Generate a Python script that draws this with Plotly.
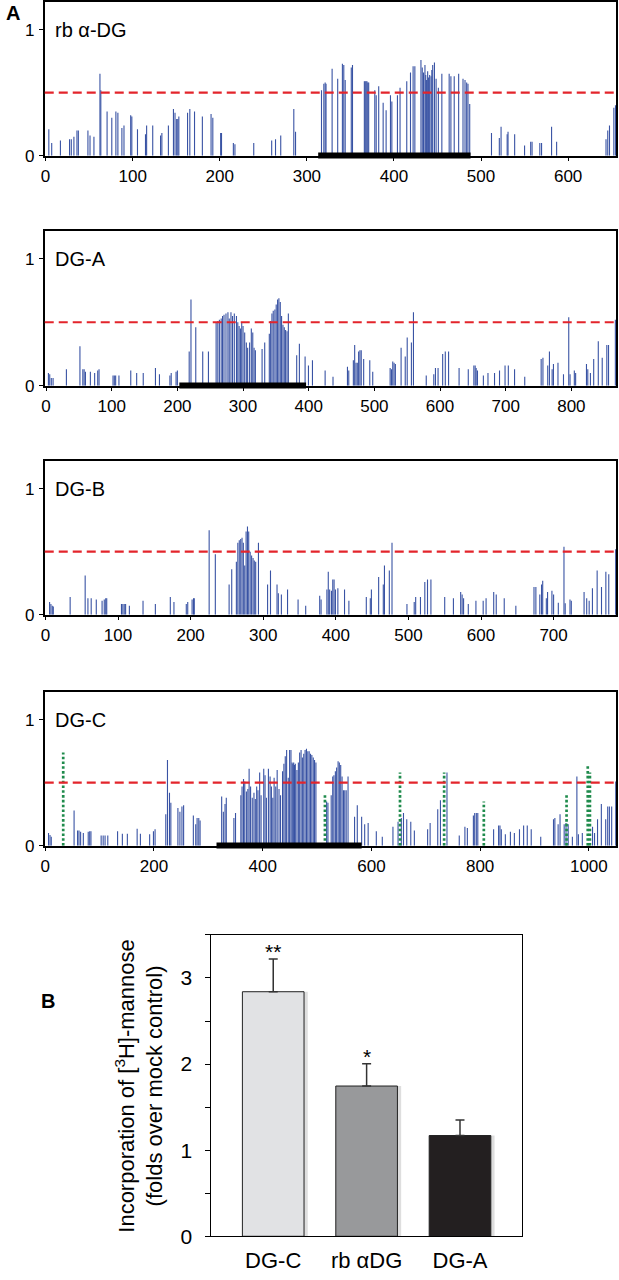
import plotly.graph_objects as go

# ---------------- data ----------------
rb_pos = [3.7, 7, 17, 27.5, 29.5, 32.5, 36, 37.6, 48.6, 51, 55.5, 62.4, 63.4, 70.6, 76, 80.7, 83, 87.6, 90,
          97.7, 99, 105.5, 114.7, 116, 123, 132, 133.5, 141, 146.8, 148.6, 150.5, 151.8, 153, 163, 165.6, 171,
          180, 190, 192, 201, 202, 215.6, 217.4, 239, 259.6, 264, 270, 285, 287,
          316.8, 319.5, 321, 322, 329, 335.4, 340.8, 342.4, 344, 351, 352.4, 366, 367, 368, 369, 370, 371,
          378, 379.6, 382.5, 387.6, 391, 396, 397.6, 404, 407, 414.7, 419, 422, 424, 431, 432.5, 434, 435.6,
          436.5, 437.5, 438.7, 439.8, 441, 442.6, 443.5, 444.5, 446.5, 448.4, 451, 455, 463.4, 465.4, 469.2,
          474.3, 479.3, 481.6, 483.5, 485, 487,
          512, 521, 523, 530, 531, 538.6, 550, 557, 558.6, 567.5, 569.5, 581, 586.8, 643.5, 645.5, 647.5,
          652.5, 654.4]
rb_score = [0.21, 0.10, 0.12, 0.13, 0.13, 0.15, 0.20, 0.20, 0.20, 0.16, 0.15, 0.65, 0.52, 0.35, 0.30, 0.35, 0.34,
            0.22, 0.24, 0.32, 0.31, 0.21, 0.17, 0.24, 0.24, 0.16, 0.18, 0.24, 0.37, 0.34, 0.29, 0.29, 0.31, 0.34,
            0.37, 0.35, 0.31, 0.33, 0.30, 0.18, 0.18, 0.10, 0.09, 0.10, 0.12, 0.13, 0.16, 0.37, 0.19,
            0.52, 0.57, 0.58, 0.57, 0.69, 0.61, 0.73, 0.72, 0.60, 0.70, 0.72, 0.59, 0.59, 0.59, 0.59, 0.58, 0.58,
            0.52, 0.48, 0.55, 0.42, 0.36, 0.48, 0.43, 0.48, 0.54, 0.59, 0.66, 0.71, 0.71, 0.76, 0.70, 0.66, 0.72,
            0.64, 0.60, 0.67, 0.62, 0.64, 0.63, 0.68, 0.72, 0.74, 0.61, 0.54, 0.65, 0.65, 0.63, 0.63,
            0.65, 0.61, 0.60, 0.58, 0.57, 0.41,
            0.18, 0.14, 0.23, 0.17, 0.19, 0.17, 0.08, 0.11, 0.11, 0.10, 0.10, 0.23, 0.11, 0.13, 0.20, 0.24,
            0.38, 0.40]

dga_pos = [3.6, 5.6, 8, 10.7, 31, 51.6, 56, 58, 60, 67.5, 74, 78.7, 80.7, 102, 104, 106, 111, 129, 138, 148,
           166.6, 172.7, 188.6, 190.6, 198, 200, 218, 220.7, 228, 238.6, 247.3,
           259, 261.6, 264, 266.7, 268.8, 271, 274, 277, 279, 281.6, 284, 286.7, 290, 292, 294, 296, 298, 300,
           302.5, 305, 307, 310, 312.6, 314.8, 316.8, 318.8, 329, 333, 340, 342, 344, 346, 348.5, 350.5, 352.6,
           354.6, 356.7, 358.7, 360.8, 362.8, 364.8, 367, 369, 381.7, 385.8, 394.5, 399.6, 405.7, 425, 437,
           459, 461, 468, 470, 472, 474, 476, 478, 480, 483.7, 493, 497.5, 524, 526, 528, 530, 532, 540.7, 547,
           550, 556.4, 559.5, 579, 590.5, 593, 597, 604, 608, 613, 629, 643, 651.5, 653.5, 655, 657, 666, 673,
           683, 690.6, 699, 704, 713.5, 729, 754, 756.7, 764, 766.6, 770.7, 772.7, 779.6, 788, 796, 798, 804.5,
           806.5, 823, 825, 829, 834, 841, 847, 854, 856.6, 867]
dga_score = [0.10, 0.09, 0.06, 0.06, 0.13, 0.31, 0.13, 0.13, 0.11, 0.11, 0.10, 0.12, 0.13, 0.08, 0.08, 0.08, 0.08,
             0.12, 0.10, 0.10, 0.14, 0.09, 0.08, 0.10, 0.11, 0.12, 0.27, 0.68, 0.46, 0.27, 0.27,
             0.50, 0.51, 0.52, 0.53, 0.55, 0.56, 0.57, 0.58, 0.53, 0.58, 0.55, 0.57, 0.55, 0.50, 0.47, 0.45, 0.50,
             0.47, 0.42, 0.34, 0.30, 0.34, 0.45, 0.42, 0.30, 0.28, 0.29, 0.34, 0.41, 0.51, 0.57, 0.59, 0.60, 0.64,
             0.68, 0.69, 0.66, 0.55, 0.48, 0.46, 0.44, 0.43, 0.57, 0.24, 0.33, 0.23, 0.16, 0.20, 0.12, 0.07,
             0.15, 0.12, 0.20, 0.32, 0.18, 0.18, 0.27, 0.28, 0.28, 0.21, 0.20, 0.11, 0.14, 0.13, 0.19, 0.18, 0.17,
             0.30, 0.23, 0.38, 0.34, 0.58, 0.08, 0.09, 0.14, 0.14, 0.25, 0.27, 0.27, 0.14, 0.13, 0.16, 0.16, 0.14,
             0.12, 0.08, 0.10, 0.10, 0.12, 0.16, 0.16, 0.13, 0.07, 0.21, 0.22, 0.16, 0.27, 0.13, 0.17, 0.18, 0.09,
             0.54, 0.09, 0.12, 0.10, 0.17, 0.13, 0.10, 0.21, 0.35, 0.22, 0.32, 0.32, 0.52]

dgb_pos = [5.7, 7.5, 9.4, 10.8, 34, 54.7, 58.5, 63, 70, 78, 81, 83, 84.4, 104.7, 106.6, 108.5, 110.4, 115.6,
           134.4, 151.4, 172, 177, 194, 196, 202, 204, 205, 225.5, 234, 253, 256.6, 263, 265, 267, 269, 270.8,
           272.6, 274.5, 276.4, 278.3, 280, 282, 284, 286, 287.7, 289.6, 293.4, 306, 310, 319, 320.8, 325,
           333.5, 348, 358.5, 377.8, 379.7, 387.7, 389.6, 391.5, 394, 395.8, 397.6, 399.5, 402.8, 412, 418,
           442, 447.5, 449, 459, 465.4, 467, 473.7, 477.4, 498, 508, 510, 516.6, 522.6, 526.3, 531, 550, 562,
           572, 574, 576, 582.5, 593, 603, 607, 617.5, 621, 632, 648, 673, 675.6, 681, 683.4, 685, 690, 691.7,
           697.7, 700, 706.5, 714.3, 716, 722.6, 724.4, 742, 745.6, 749, 753.5, 760, 766, 772, 776, 785.5]
dgb_score = [0.10, 0.085, 0.07, 0.065, 0.14, 0.31, 0.13, 0.13, 0.12, 0.11, 0.12, 0.13, 0.13, 0.085, 0.085,
             0.085, 0.085, 0.07, 0.11, 0.085, 0.14, 0.10, 0.085, 0.10, 0.12, 0.13, 0.13, 0.67, 0.48, 0.24, 0.36,
             0.42, 0.57, 0.59, 0.60, 0.61, 0.57, 0.39, 0.66, 0.70, 0.66, 0.50, 0.47, 0.45, 0.43, 0.42, 0.57,
             0.24, 0.35, 0.24, 0.17, 0.16, 0.20, 0.12, 0.07, 0.15, 0.12, 0.20, 0.34, 0.20, 0.19, 0.28, 0.28,
             0.20, 0.21, 0.20, 0.11, 0.14, 0.13, 0.20, 0.30, 0.24, 0.39, 0.35, 0.57, 0.085, 0.10, 0.14, 0.14,
             0.26, 0.28, 0.28, 0.14, 0.13, 0.18, 0.16, 0.13, 0.085, 0.11, 0.11, 0.13, 0.18, 0.16, 0.13, 0.07,
             0.22, 0.22, 0.16, 0.24, 0.27, 0.13, 0.18, 0.19, 0.16, 0.095, 0.54, 0.09, 0.12, 0.11, 0.18, 0.13,
             0.11, 0.21, 0.35, 0.22, 0.34, 0.32, 0.52]

dgc_pos = [6, 8.7, 11, 53, 59.4, 62, 65, 70, 79, 81.7, 84, 102.8, 106.5, 110, 115, 133, 141.8, 151, 169, 175,
           192, 199, 202, 221.7, 224.8, 228.5, 231, 244, 247.7, 251.4, 254.5, 272.4, 276.8, 279.3, 282.4, 284.8,
           324.5, 327.6, 330.7, 333, 347, 350, 359.8, 362, 364.7, 367, 370, 372.7, 375, 377.7, 380.8, 383.9,
           386.4, 388.9, 391.3, 394.4, 397, 401.9, 404.3, 406.8, 410.5, 413.6, 416, 418.6, 421, 424, 426.6, 430,
           432.8, 436.5, 439, 441.5, 444, 447, 449.5, 452, 454, 455.5, 457, 458.5, 460, 463, 465.6, 468, 470.6,
           473, 475.5, 478, 480.5, 483, 485.5, 488, 490.4, 493, 495.4, 497.9,
           517.6, 520, 526, 528.8, 531, 533.7, 536, 538.7, 541, 543.5, 546, 548.6, 551, 553.6, 557, 569, 574,
           582, 587.6, 594, 609, 620, 639.6, 649, 655, 659, 665, 672.4, 679, 703.4, 708, 722, 727, 739, 761.6,
           772, 776.5, 787.6, 790, 793, 795.7, 824.8, 834, 836.5, 839, 846.4, 855.7, 863, 872.4, 880, 886.7,
           894, 911.5, 935, 937.5, 943.5, 947, 954.6, 958, 962, 969.7, 978, 980.8, 988, 1006.8, 1010.5, 1016,
           1023, 1031, 1034.7, 1037.8, 1042, 1049.5]
dgc_score = [0.10, 0.085, 0.07, 0.28, 0.12, 0.12, 0.11, 0.10, 0.11, 0.115, 0.115, 0.08, 0.08, 0.08, 0.08, 0.115,
             0.095, 0.095, 0.135, 0.095, 0.09, 0.115, 0.13, 0.25, 0.68, 0.42, 0.34, 0.30, 0.27, 0.31, 0.32,
             0.24, 0.17, 0.22, 0.22, 0.20,
             0.39, 0.27, 0.33, 0.38, 0.22, 0.26, 0.40, 0.47, 0.53, 0.51, 0.43, 0.45, 0.61, 0.47, 0.38, 0.42,
             0.37, 0.47, 0.44, 0.58, 0.40, 0.61, 0.56, 0.38, 0.61, 0.55, 0.47, 0.38, 0.54, 0.47, 0.60, 0.45,
             0.40, 0.59, 0.65, 0.71, 0.76, 0.54, 0.76, 0.76, 0.66, 0.65, 0.66, 0.64, 0.65, 0.60, 0.66, 0.74, 0.76,
             0.70, 0.73, 0.76, 0.77, 0.75, 0.75, 0.73, 0.72, 0.70, 0.68, 0.66,
             0.35, 0.34, 0.40, 0.55, 0.56, 0.59, 0.62, 0.67, 0.66, 0.64, 0.55, 0.44, 0.44, 0.44, 0.55, 0.23, 0.32,
             0.23, 0.17, 0.18, 0.115, 0.07, 0.15, 0.19, 0.22, 0.26, 0.21, 0.19, 0.12, 0.13, 0.18, 0.29, 0.36,
             0.58, 0.08, 0.15, 0.14, 0.24, 0.26, 0.26, 0.26, 0.13, 0.16, 0.16, 0.13, 0.09, 0.11, 0.10, 0.13,
             0.16, 0.16, 0.13, 0.07, 0.21, 0.22, 0.17, 0.25, 0.17, 0.18, 0.17, 0.07, 0.55, 0.09, 0.10, 0.15,
             0.10, 0.21, 0.33, 0.21, 0.31, 0.31, 0.31, 0.51]

dgc_green_pos = [33, 514.5, 652.6, 733.8, 806.8, 959, 998, 1002]
dgc_green_score = [0.74, 0.40, 0.58, 0.58, 0.35, 0.40, 0.63, 0.58]

panel_names = ["rb α-DG", "DG-A", "DG-B", "DG-C"]
panel_pos = [rb_pos, dga_pos, dgb_pos, dgc_pos]
panel_score = [rb_score, dga_score, dgb_score, dgc_score]
panel_xrange = [[-1, 655], [-2, 868], [-1, 786], [-1, 1050]]
panel_xtick_step = [100, 100, 100, 200]
mucin_domains = [[313, 488], [203, 396], None, [315, 582]]
threshold = 0.5

bar_categories = ["DG-C", "rb αDG", "DG-A"]
bar_values = [2.84, 1.745, 1.17]
bar_errors = [0.38, 0.26, 0.18]
bar_stars = ["**", "*", ""]
bar_colors = ["#e1e2e4", "#98999b", "#231f20"]
bar_yticks = [0, 1, 2, 3]
bar_yticktext = ["0", "1", "2", "3"]

# ---------------- layout helpers ----------------
W, H = 619, 1280
FONT = "Liberation Sans, Arial, Helvetica, sans-serif"
BLUE = "#3953a4"
GREEN = "#1f8b4c"
RED = "#e3242b"


def px_x(a, b):
    return [a / W, b / W]


def px_y(top, bottom):
    return [1 - bottom / H, 1 - top / H]


panel_ydom = [px_y(2, 157), px_y(233, 389), px_y(465, 620), px_y(698, 853)]
panel_xdom = px_x(41, 616)

fig = go.Figure()
shapes = []
annotations = []
layout = {}

for i in range(4):
    n = i + 1
    xa = "x" if n == 1 else f"x{n}"
    ya = "y" if n == 1 else f"y{n}"
    xs, ys = [], []
    for p, s in zip(panel_pos[i], panel_score[i]):
        xs += [p, p, None]
        ys += [0, s, None]
    fig.add_trace(go.Scatter(x=xs, y=ys, mode="lines", xaxis=xa, yaxis=ya,
                             line=dict(color=BLUE, width=1.1), hoverinfo="skip", showlegend=False))
    if i == 3:
        gx, gy = [], []
        for p, s in zip(dgc_green_pos, dgc_green_score):
            gx += [p, p, None]
            gy += [0, s, None]
        fig.add_trace(go.Scatter(x=gx, y=gy, mode="lines", xaxis=xa, yaxis=ya,
                                 line=dict(color=GREEN, width=2.7, dash="2.6px,2.2px"),
                                 hoverinfo="skip", showlegend=False))
    step = panel_xtick_step[i]
    lo, hi = panel_xrange[i]
    layout[f"xaxis{'' if n == 1 else n}"] = dict(
        domain=panel_xdom, anchor=ya, range=[lo, hi], tickmode="linear", tick0=0, dtick=step,
        showline=True, mirror=True, linecolor="black", linewidth=1.5, ticks="outside", ticklen=4,
        tickcolor="black", showgrid=False, zeroline=False,
        tickfont=dict(family=FONT, size=17, color="black"))
    layout[f"yaxis{'' if n == 1 else n}"] = dict(
        domain=panel_ydom[i], anchor=xa, range=[0, 1.22], tickvals=[0, 1], ticktext=["0", "1"],
        showline=True, mirror=True, linecolor="black", linewidth=1.5, ticks="outside", ticklen=4,
        tickcolor="black", showgrid=False, zeroline=False, ticklabelstandoff=1,
        tickfont=dict(family=FONT, size=17, color="black"))
    # threshold line
    shapes.append(dict(type="line", xref=f"{xa} domain", yref=ya, x0=0, x1=1, y0=threshold, y1=threshold,
                       line=dict(color=RED, width=2.2, dash="9px,5px")))
    # mucin domain bar
    if mucin_domains[i] is not None:
        a, b = mucin_domains[i]
        shapes.append(dict(type="rect", xref=xa, yref=f"{ya} domain", x0=a, x1=b, y0=-0.018, y1=0.02,
                           fillcolor="black", line=dict(width=0)))
    annotations.append(dict(text=panel_names[i], xref=f"{xa} domain", yref=ya, x=0.015, y=1,
                            xanchor="left", yanchor="middle", showarrow=False,
                            font=dict(family=FONT, size=20, color="black")))

# ---------------- bar chart ----------------
# soft drop shadow behind each bar
fig.add_trace(go.Bar(x=bar_categories, y=bar_values, width=0.68, offset=-0.31, xaxis="x5", yaxis="y5",
                     marker=dict(color="rgba(0,0,0,0.13)", line=dict(width=0)),
                     hoverinfo="skip", showlegend=False))
fig.add_trace(go.Bar(x=bar_categories, y=bar_values, width=0.66, xaxis="x5", yaxis="y5",
                     marker=dict(color=bar_colors, line=dict(color="#222", width=1)),
                     error_y=dict(type="data", symmetric=False, array=bar_errors,
                                  arrayminus=[0] * len(bar_errors), color="#333", thickness=1.5, width=4.5),
                     hoverinfo="skip", showlegend=False))
layout["xaxis5"] = dict(domain=px_x(208, 521), anchor="y5", range=[-0.67, 2.66], type="category",
                        showline=True, mirror=True, linecolor="black", linewidth=1.3, ticks="",
                        showgrid=False, ticklabelstandoff=4,
                        tickfont=dict(family=FONT, size=22, color="black"))
layout["yaxis5"] = dict(domain=px_y(943, 1247), anchor="x5", range=[0, 3.5], tickvals=bar_yticks,
                        ticktext=bar_yticktext, showline=True, mirror=True, linecolor="black", linewidth=1.3,
                        ticks="outside", ticklen=5, tickcolor="black", showgrid=False, zeroline=False,
                        minor=dict(ticks="outside", dtick=0.5, tick0=0, ticklen=5, tickcolor="black",
                                   showgrid=False),
                        ticklabelstandoff=8,
                        tickfont=dict(family=FONT, size=21, color="black"))
for c, v, e, s in zip(bar_categories, bar_values, bar_errors, bar_stars):
    if s:
        annotations.append(dict(text=s, xref="x5", yref="y5", x=c, y=v + e, xanchor="center",
                                yanchor="bottom", yshift=-6, showarrow=False,
                                font=dict(family=FONT, size=21, color="black")))
annotations.append(dict(text="Incorporation of [<sup>3</sup>H]-mannose<br>(folds over mock control)",
                        xref="paper", yref="y5 domain", x=136 / W, y=0.5, textangle=-90,
                        xanchor="center", yanchor="middle", showarrow=False,
                        font=dict(family=FONT, size=22, color="black")))

annotations.append(dict(text="<b>A</b>", xref="paper", yref="paper", x=9 / W, y=1 - 13 / H,
                        xanchor="center", yanchor="middle", showarrow=False,
                        font=dict(family=FONT, size=20, color="black")))
annotations.append(dict(text="<b>B</b>", xref="paper", yref="paper", x=44 / W, y=1 - 1010 / H,
                        xanchor="center", yanchor="middle", showarrow=False,
                        font=dict(family=FONT, size=20, color="black")))

fig.update_layout(width=W, height=H, margin=dict(l=0, r=0, t=0, b=0), paper_bgcolor="white",
                  plot_bgcolor="white", shapes=shapes, annotations=annotations, barmode="overlay", **layout)

fig.write_html("out.html", config={"displayModeBar": False},
               post_script="document.body.style.margin='0';")
